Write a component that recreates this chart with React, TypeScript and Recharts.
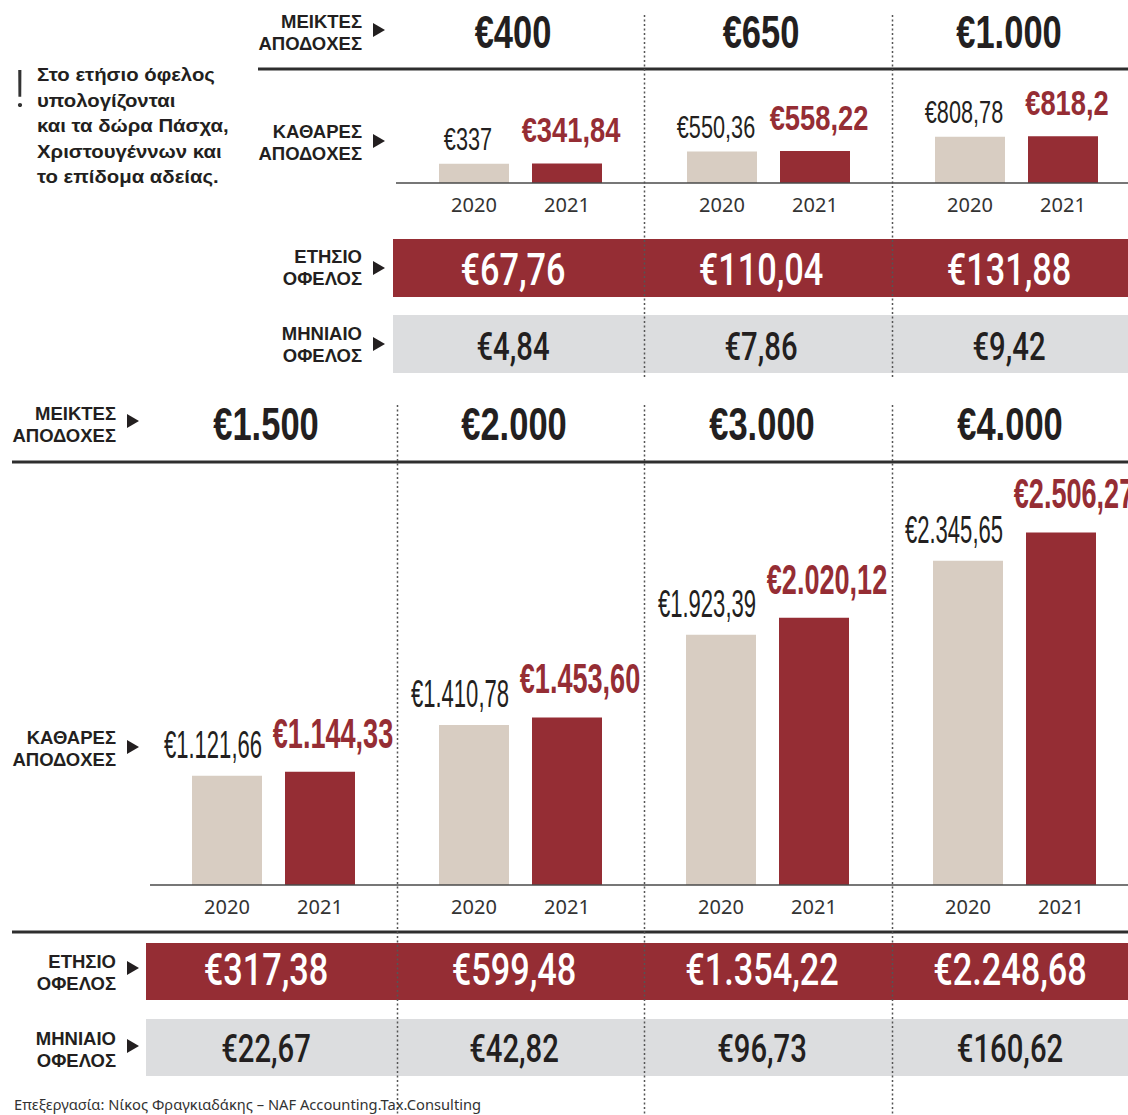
import React from "react";
import { BarChart, Bar, XAxis, YAxis, LabelList } from "recharts";

const RED = "#952d34";
const BEIGE = "#d8cdc2";
const GRAY_BAND = "#dcdddf";
const INK = "#231f20";
const NUM_FONT = "'Liberation Sans', Arial, sans-serif";
const TXT_FONT = "'Noto Sans', 'Open Sans', sans-serif";

// top block: gross €400 - €1.000
const topGross = ["400", "650", "1.000"];
const topNet2020 = ["337", "550,36", "808,78"];
const topNet2021 = ["341,84", "558,22", "818,2"];
const topAnnual = ["67,76", "110,04", "131,88"];
const topMonthly = ["4,84", "7,86", "9,42"];

// bottom block: gross €1.500 - €4.000
const bottomGross = ["1.500", "2.000", "3.000", "4.000"];
const bottomNet2020 = ["1.121,66", "1.410,78", "1.923,39", "2.345,65"];
const bottomNet2021 = ["1.144,33", "1.453,60", "2.020,12", "2.506,27"];
const bottomAnnual = ["317,38", "599,48", "1.354,22", "2.248,68"];
const bottomMonthly = ["22,67", "42,82", "96,73", "160,62"];

const years = ["2020", "2021"];

const noteLines = [
  "Στο ετήσιο όφελος",
  "υπολογίζονται",
  "και τα δώρα Πάσχα,",
  "Χριστουγέννων και",
  "το επίδομα αδείας.",
];
const source = "Επεξεργασία: Νίκος Φραγκιαδάκης – NAF Accounting.Tax.Consulting";

// "1.121,66" -> 1121.66
const toNumber = (s: string) => parseFloat(s.replace(/\./g, "").replace(",", "."));

const buildRows = (gross: string[], a: string[], b: string[]) =>
  gross.map((g, i) => ({
    name: g,
    v2020: toNumber(a[i]),
    v2021: toNumber(b[i]),
    l2020: a[i],
    l2021: b[i],
  }));

const topRows = buildRows(topGross, topNet2020, topNet2021);
const bottomRows = buildRows(bottomGross, bottomNet2020, bottomNet2021);

type TextStyle = { size: number; sx: number; weight: number; fill: string; family?: string };

const CondText = ({ x, y, text, st, anchor = "middle" }: any) => (
  <text
    transform={`translate(${x} ${y}) scale(${st.sx} 1)`}
    fontSize={st.size}
    fontWeight={st.weight}
    fill={st.fill}
    fontFamily={st.family || NUM_FONT}
    textAnchor={anchor}
  >
    {text}
  </text>
);

const barBox = (props: any) => {
  const vb = props.viewBox || {};
  return {
    x: Number(props.x ?? vb.x),
    y: Number(props.y ?? vb.y),
    w: Number(props.width ?? vb.width),
    h: Number(props.height ?? vb.height),
  };
};

const valueLabel = (st: TextStyle, dx: number, gap: number) => (props: any) => {
  const b = barBox(props);
  return <CondText x={b.x + b.w / 2 + dx} y={b.y - gap} text={"€" + props.value} st={st} />;
};

const yearLabel = (year: string) => (props: any) => {
  const b = barBox(props);
  return (
    <text x={b.x + b.w / 2} y={b.y + b.h + 29} textAnchor="middle" fontSize={20} fontFamily={TXT_FONT} fill="#333">
      {year}
    </text>
  );
};

const NetChart = ({ data, width, height, axisH, domain, st2020, st2021, dx, gaps }: any) => (
  <BarChart
    width={width}
    height={height}
    data={data}
    margin={{ top: 0, right: 0, bottom: 0, left: 0 }}
    barSize={70}
    barGap={23}
  >
    <XAxis
      dataKey="name"
      tick={false}
      tickLine={false}
      axisLine={{ stroke: "#4a4a4a", strokeWidth: 1.5 }}
      height={axisH}
    />
    <YAxis hide domain={domain} allowDataOverflow />
    <Bar dataKey="v2020" fill={BEIGE} isAnimationActive={false}>
      <LabelList dataKey="l2020" content={valueLabel(st2020, dx[0], gaps[0])} />
      <LabelList dataKey="l2020" content={yearLabel(years[0])} />
    </Bar>
    <Bar dataKey="v2021" fill={RED} isAnimationActive={false}>
      <LabelList dataKey="l2021" content={valueLabel(st2021, dx[1], gaps[1])} />
      <LabelList dataKey="l2021" content={yearLabel(years[1])} />
    </Bar>
  </BarChart>
);

const RowLabel = ({ right, base, lines, tri }: any) => (
  <g>
    {lines.map((l: string, i: number) => (
      <text
        key={l + i}
        x={right}
        y={base + i * 22}
        textAnchor="end"
        fontFamily={NUM_FONT}
        fontWeight={700}
        fontSize={18.5}
        fill={INK}
      >
        {l}
      </text>
    ))}
    <polygon points={`${right + 11},${tri - 7} ${right + 11},${tri + 7} ${right + 23},${tri}`} fill={INK} />
  </g>
);

const headerSt: TextStyle = { size: 46, sx: 0.75, weight: 700, fill: INK };
const annualSt: TextStyle = { size: 44, sx: 0.78, weight: 500, fill: "#fff", family: "Roboto, " + NUM_FONT };
const monthlySt: TextStyle = { size: 38, sx: 0.77, weight: 500, fill: INK, family: "Roboto, " + NUM_FONT };

const Dotted = ({ x, y1, y2 }: any) => (
  <line x1={x} x2={x} y1={y1} y2={y2} stroke="#555" strokeWidth={1.5} strokeDasharray="2 2.5" />
);

const ValueRow = ({ values, x0, step, y, st }: any) => (
  <g>
    {values.map((v: string, i: number) => (
      <CondText key={v} x={x0 + i * step} y={y} text={"€" + v} st={st} />
    ))}
  </g>
);

const App = () => {
  return (
    <div
      style={{
        position: "absolute",
        left: 0,
        top: 0,
        width: 1128,
        height: 1115,
        overflow: "hidden",
        background: "#fff",
      }}
    >
      <div style={{ position: "absolute", left: 396, top: 80 }}>
        <NetChart
          data={topRows}
          width={744}
          height={140}
          axisH={37}
          domain={[0, 1800]}
          st2020={{ size: 31, sx: 0.7, weight: 400, fill: INK }}
          st2021={{ size: 35, sx: 0.78, weight: 700, fill: RED }}
          dx={[-6, 4]}
          gaps={[14, 21]}
        />
      </div>
      <div style={{ position: "absolute", left: 150, top: 472 }}>
        <NetChart
          data={bottomRows}
          width={988}
          height={453}
          axisH={40}
          domain={[500, 2850]}
          st2020={{ size: 38, sx: 0.58, weight: 400, fill: INK }}
          st2021={{ size: 43, sx: 0.63, weight: 700, fill: RED }}
          dx={[-14, 13]}
          gaps={[18, 24]}
        />
      </div>

      <svg
        width={1128}
        height={1115}
        style={{ position: "absolute", left: 0, top: 0, pointerEvents: "none" }}
      >
        {/* bands */}
        <rect x={393} y={239} width={740} height={58} fill={RED} />
        <rect x={393} y={315} width={740} height={58} fill={GRAY_BAND} />
        <rect x={146} y={943} width={990} height={57} fill={RED} />
        <rect x={146} y={1019} width={990} height={57} fill={GRAY_BAND} />

        {/* separators */}
        <rect x={258} y={67.5} width={880} height={3} fill="#2e2e2e" />
        <rect x={12} y={460.5} width={1126} height={3} fill="#2e2e2e" />
        <rect x={12} y={930.5} width={1126} height={3} fill="#2e2e2e" />

        <Dotted x={644.5} y1={15} y2={378} />
        <Dotted x={892.5} y1={15} y2={378} />
        <Dotted x={397.5} y1={405} y2={1115} />
        <Dotted x={644.5} y1={405} y2={1115} />
        <Dotted x={892.5} y1={405} y2={1115} />

        {/* note */}
        <text x={14} y={107} fontFamily="Roboto, sans-serif" fontWeight={300} fontSize={52} fill="#333">
          !
        </text>
        {noteLines.map((l, i) => (
          <text
            key={l}
            transform={`translate(37 ${81 + i * 25.5}) scale(1.1 1)`}
            fontFamily={NUM_FONT}
            fontWeight={700}
            fontSize={18.5}
            fill={INK}
          >
            {l}
          </text>
        ))}

        {/* row labels */}
        <RowLabel right={362} base={28} tri={30} lines={["ΜΕΙΚΤΕΣ", "ΑΠΟΔΟΧΕΣ"]} />
        <RowLabel right={362} base={138} tri={141} lines={["ΚΑΘΑΡΕΣ", "ΑΠΟΔΟΧΕΣ"]} />
        <RowLabel right={362} base={263} tri={268} lines={["ΕΤΗΣΙΟ", "ΟΦΕΛΟΣ"]} />
        <RowLabel right={362} base={340} tri={344} lines={["ΜΗΝΙΑΙΟ", "ΟΦΕΛΟΣ"]} />
        <RowLabel right={116} base={420} tri={421} lines={["ΜΕΙΚΤΕΣ", "ΑΠΟΔΟΧΕΣ"]} />
        <RowLabel right={116} base={744} tri={747} lines={["ΚΑΘΑΡΕΣ", "ΑΠΟΔΟΧΕΣ"]} />
        <RowLabel right={116} base={968} tri={968} lines={["ΕΤΗΣΙΟ", "ΟΦΕΛΟΣ"]} />
        <RowLabel right={116} base={1045} tri={1046} lines={["ΜΗΝΙΑΙΟ", "ΟΦΕΛΟΣ"]} />

        {/* values */}
        <ValueRow values={topGross} x0={513} step={248} y={48} st={headerSt} />
        <ValueRow values={topAnnual} x0={513} step={248} y={285} st={annualSt} />
        <ValueRow values={topMonthly} x0={513} step={248} y={360} st={monthlySt} />
        <ValueRow values={bottomGross} x0={266} step={248} y={440} st={headerSt} />
        <ValueRow values={bottomAnnual} x0={266} step={248} y={985} st={annualSt} />
        <ValueRow values={bottomMonthly} x0={266} step={248} y={1062} st={monthlySt} />

        <text x={14} y={1110} fontFamily={TXT_FONT} fontSize={14.7} fill="#333">
          {source}
        </text>
      </svg>
    </div>
  );
};

export default App;
